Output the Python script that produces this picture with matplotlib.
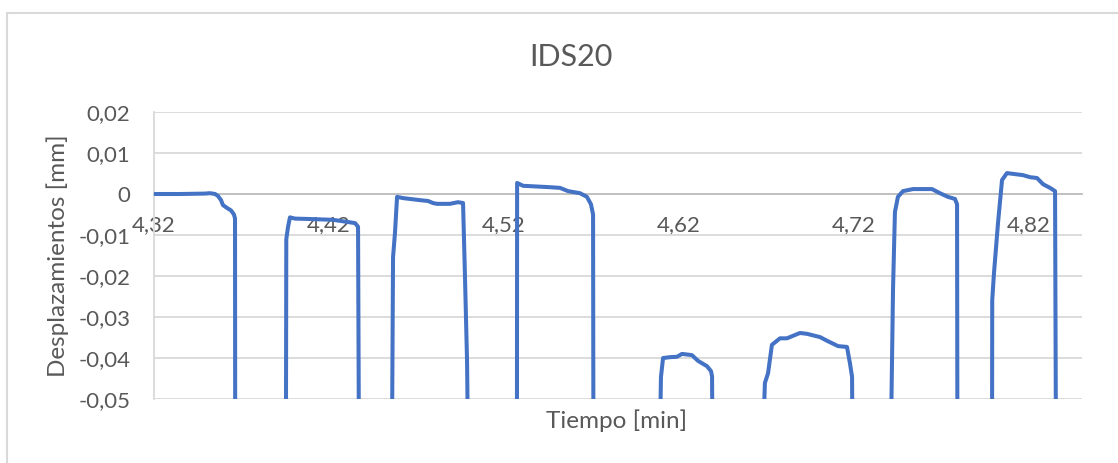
import matplotlib
matplotlib.use("Agg")
import matplotlib.pyplot as plt

# Displacement record for IDS20 (time in minutes, displacement in mm)
tiempo = [
    4.3200, 4.3349, 4.3491, 4.3520, 4.3549, 4.3566, 4.3583, 4.3594, 4.3617, 4.3640, 4.3657, 4.3663, 4.3664, 4.3806,
    4.3954, 4.3956, 4.3966, 4.3977, 4.4006, 4.4091, 4.4223, 4.4303, 4.4349, 4.4366, 4.4371, 4.4463,
    4.4560, 4.4566, 4.4577, 4.4589, 4.4623, 4.4720, 4.4766, 4.4794, 4.4817, 4.4891, 4.4937, 4.4966, 4.4977, 4.4989, 4.4994, 4.5131,
    4.5274, 4.5275, 4.5309, 4.5446, 4.5520, 4.5566, 4.5634, 4.5674, 4.5697, 4.5709, 4.5711, 4.5897,
    4.6091, 4.6097, 4.6109, 4.6149, 4.6189, 4.6217, 4.6274, 4.6309, 4.6360, 4.6383, 4.6389, 4.6391, 4.6537,
    4.6680, 4.6691, 4.6709, 4.6731, 4.6777, 4.6817, 4.6891, 4.6931, 4.7006, 4.7046, 4.7109, 4.7160, 4.7177, 4.7189, 4.7191, 4.7303,
    4.7411, 4.7423, 4.7434, 4.7451, 4.7480, 4.7537, 4.7646, 4.7691, 4.7737, 4.7777, 4.7789, 4.7791, 4.7891,
    4.7989, 4.7990, 4.8000, 4.8023, 4.8046, 4.8074, 4.8166, 4.8206, 4.8246, 4.8280, 4.8320, 4.8349, 4.8354,
]
desplazamiento = [
    0.0, 0.0, 0.0001, 0.0002, 0.0, -0.0005, -0.0015, -0.0027, -0.0034, -0.0040, -0.0050, -0.0060, -0.0600, -0.0900,
    -0.0600, -0.0110, -0.0080, -0.0057, -0.0060, -0.0061, -0.0063, -0.0068, -0.0071, -0.0080, -0.0600, -0.0900,
    -0.0600, -0.0154, -0.0095, -0.0007, -0.0010, -0.0015, -0.0017, -0.0022, -0.0024, -0.0024, -0.0020, -0.0022, -0.0200, -0.0410, -0.0600, -0.0900,
    -0.0600, 0.0027, 0.0020, 0.0017, 0.0015, 0.0007, 0.0002, -0.0007, -0.0025, -0.0050, -0.0600, -0.0900,
    -0.0600, -0.0446, -0.0400, -0.0398, -0.0397, -0.0390, -0.0393, -0.0407, -0.0420, -0.0432, -0.0445, -0.0600, -0.0900,
    -0.0600, -0.0461, -0.0437, -0.0368, -0.0352, -0.0352, -0.0339, -0.0341, -0.0349, -0.0358, -0.0371, -0.0373, -0.0413, -0.0446, -0.0600, -0.0900,
    -0.0600, -0.0234, -0.0044, -0.0007, 0.0007, 0.0012, 0.0012, 0.0002, -0.0007, -0.0012, -0.0025, -0.0600, -0.0900,
    -0.0600, -0.0259, -0.0193, -0.0071, 0.0034, 0.0051, 0.0046, 0.0041, 0.0039, 0.0024, 0.0015, 0.0007, -0.0600,
]

x_ticks = [4.32, 4.42, 4.52, 4.62, 4.72, 4.82]
x_tick_labels = ["4,32", "4,42", "4,52", "4,62", "4,72", "4,82"]
y_ticks = [0.02, 0.01, 0.0, -0.01, -0.02, -0.03, -0.04, -0.05]
y_tick_labels = ["0,02", "0,01", "0", "-0,01", "-0,02", "-0,03", "-0,04", "-0,05"]

TEXT = "#595959"
GRID = "#d9d9d9"
LINE = "#4472c4"
FONT = ["Lato", "DejaVu Sans"]

plt.rcParams["font.family"] = FONT

W, H = 1118, 463
fig = plt.figure(figsize=(W / 100, H / 100), dpi=100)
fig.patch.set_facecolor("white")

# chart frame (left and top edges visible)
fig.add_artist(plt.Line2D([7 / W, 7 / W], [0, 1 - 13 / H], transform=fig.transFigure,
                          color=GRID, lw=1.5))
fig.add_artist(plt.Line2D([7 / W, 1], [1 - 13 / H, 1 - 13 / H], transform=fig.transFigure,
                          color=GRID, lw=1.5))

left, right, top, bottom = 154 / W, 1082 / W, 1 - 112 / H, 1 - 399 / H
ax = fig.add_axes([left, bottom, right - left, top - bottom])

ax.plot(tiempo, desplazamiento, color=LINE, lw=2.9, solid_joinstyle="round",
        solid_capstyle="round", zorder=3)

ax.set_xlim(4.32, 4.8503)
ax.set_ylim(-0.05, 0.02)

ax.set_yticks(y_ticks)
ax.set_yticklabels(y_tick_labels)
ax.set_xticks(x_ticks)
ax.set_xticklabels(x_tick_labels)

ax.grid(axis="y", color=GRID, lw=1.3)
ax.set_axisbelow(True)

for side in ("top", "right"):
    ax.spines[side].set_visible(False)
ax.spines["left"].set_color(GRID)
ax.spines["left"].set_linewidth(1.3)
ax.spines["bottom"].set_position(("data", 0))
ax.spines["bottom"].set_color("#bfbfbf")
ax.spines["bottom"].set_linewidth(1.3)

ax.tick_params(axis="y", length=0, pad=17, labelsize=16, labelcolor=TEXT)
ax.tick_params(axis="x", length=0, pad=15, labelsize=16, labelcolor=TEXT)

fig.text(571 / W, 1 - 57 / H, "IDS20", ha="center", va="center", fontsize=22, color=TEXT)
fig.text(617 / W, 1 - 421 / H, "Tiempo [min]", ha="center", va="center", fontsize=17.5, color=TEXT)
fig.text(58 / W, 1 - 256 / H, "Desplazamientos [mm]", ha="center", va="center",
         rotation=90, fontsize=17.5, color=TEXT)

fig.savefig("out.png", dpi=100, facecolor="white")
